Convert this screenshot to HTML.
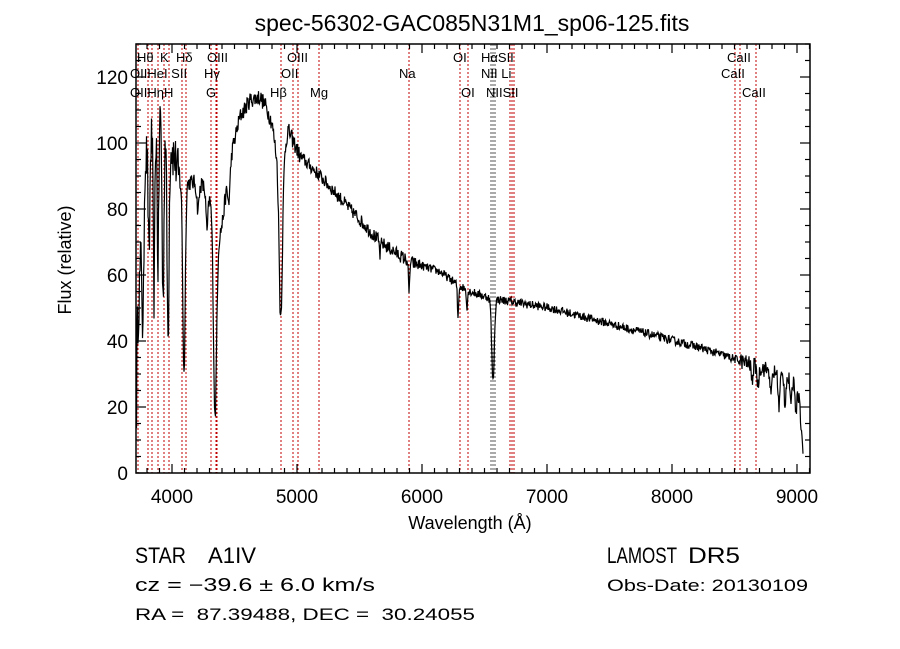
<!DOCTYPE html>
<html><head><meta charset="utf-8"><style>
html,body{margin:0;padding:0;background:#fff;}
svg{display:block;}
text{font-family:"Liberation Sans","DejaVu Sans",sans-serif;fill:#000;}
</style></head><body>
<svg id="s" width="900" height="649" xmlns="http://www.w3.org/2000/svg">
<rect width="900" height="649" fill="#fff"/>
<text x="472" y="31" font-size="23" text-anchor="middle">spec-56302-GAC085N31M1_sp06-125.fits</text>
<g id="lines"></g>
<g id="lbl" font-size="13"></g>
<path id="spec" fill="none" stroke="#000" stroke-width="1.2"/>
<g id="ticks" stroke="#000" stroke-width="1.2"></g>
<rect x="136" y="44" width="674" height="429" fill="none" stroke="#000" stroke-width="1.5"/>
<g font-size="19" text-anchor="middle">
<text x="172" y="503">4000</text><text x="297" y="503">5000</text><text x="422" y="503">6000</text>
<text x="547" y="503">7000</text><text x="672" y="503">8000</text><text x="797" y="503">9000</text>
</g>
<g font-size="19" text-anchor="end">
<text x="128" y="480">0</text><text x="128" y="414">20</text><text x="128" y="348">40</text>
<text x="128" y="282">60</text><text x="128" y="216">80</text><text x="128" y="150">100</text><text x="128" y="84">120</text>
</g>
<text x="470" y="529" font-size="18" text-anchor="middle">Wavelength (Å)</text>
<text transform="translate(71,260) rotate(-90)" font-size="18" text-anchor="middle">Flux (relative)</text>
<text x="135" y="563" font-size="22" textLength="51" lengthAdjust="spacingAndGlyphs">STAR</text>
<text x="208" y="563" font-size="22" textLength="48" lengthAdjust="spacingAndGlyphs">A1IV</text>
<text x="135" y="591" font-size="18" font-family="Liberation Serif" textLength="240" lengthAdjust="spacingAndGlyphs">cz = −39.6 ± 6.0 km/s</text>
<text x="135" y="620" font-size="17" textLength="340" lengthAdjust="spacingAndGlyphs" xml:space="preserve">RA =  87.39488, DEC =  30.24055</text>
<text x="607" y="563" font-size="22" textLength="70" lengthAdjust="spacingAndGlyphs">LAMOST</text>
<text x="688" y="563" font-size="22" textLength="52" lengthAdjust="spacingAndGlyphs">DR5</text>
<text x="607" y="591" font-size="17" textLength="201" lengthAdjust="spacingAndGlyphs">Obs-Date: 20130109</text>
</svg>
<script>
var NS="http://www.w3.org/2000/svg";
function el(p,t,a,txt){var e=document.createElementNS(NS,t);for(var k in a)e.setAttribute(k,a[k]);if(txt)e.textContent=txt;p.appendChild(e);return e;}
var L=document.getElementById('lines'),T=document.getElementById('ticks'),G=document.getElementById('lbl');
var red=[138,148,152,158,164,169,182,186,211,216,217,281,293,298,319,409,460,468,510,512,514,735,740,756];
var gry=[491,493,495];
red.forEach(function(x){el(L,'line',{x1:x,x2:x,y1:44,y2:473,stroke:'#c00000','stroke-width':1,'stroke-dasharray':'2,2'});});
gry.forEach(function(x){el(L,'line',{x1:x,x2:x,y1:44,y2:473,stroke:'#555','stroke-width':1,'stroke-dasharray':'2,2'});});
var labs=[["Hθ",137,62],["K",160,62],["Hδ",176,62],["OIII",207,62],["OIII",287,62],["OI",453,62],["HαSII",481,62],["CaII",727,62],
["OIIHeI SII",130,78],["Hγ",204,78],["OII",281,78],["Na",399,78],["NII Li",481,78],["CaII",721,78],
["OIIHηH",130,97],["G",206,97],["Hβ",270,97],["Mg",310,97],["OI",461,97],["NIISII",486,97],["CaII",742,97]];
labs.forEach(function(l){el(G,'text',{x:l[1],y:l[2]},l[0]);});
for(var w=3800;w<=9100;w+=100){var x=172+(w-4000)*0.125;if(x<136||x>810)continue;var m=(w%1000==0)?9:5;
el(T,'line',{x1:x,x2:x,y1:473,y2:473-m});el(T,'line',{x1:x,x2:x,y1:44,y2:44+m});}
for(var f=0;f<=130;f+=5){var y=473-f*3.3;if(y<44)continue;var m=(f%20==0)?10:5;
el(T,'line',{x1:136,x2:136+m,y1:y,y2:y});el(T,'line',{x1:810,x2:810-m,y1:y,y2:y});}
var cp=[[136,0],[137,40],[140,60],[145,95],[150,100],[155,105],[160,110],[165,105],[170,100],[175,95],[180,88],[190,88],[200,88],[208,85],[212,80],
[218,70],[222,75],[230,95],[240,108],[250,113],[260,114],[266,111],[272,106],[277,95],[280,82],[283,95],[288,104],[294,100],[300,96],[320,90],[350,80],[380,70],[409,64],[440,61],[458,57],[470,55],[490,53],[510,52],[550,50],[600,46],[650,42],[700,38],[740,34],[770,31],[797,27],[800,20],[803,5]];
function base(x){for(var i=0;i<cp.length-1;i++){if(x>=cp[i][0]&&x<=cp[i+1][0]){var t=(x-cp[i][0])/(cp[i+1][0]-cp[i][0]);return cp[i][1]+t*(cp[i+1][1]-cp[i][1]);}}return 0;}
var dips=[[493,25,1.3],[281,38,1.6],[215,58,1.5],[184,58,1.2],[168,60,1.0],[163,55,0.9],[158,45,0.8],[154,50,0.8],[149,35,0.8],[143,40,0.8],[409,10,0.6],[458,10,0.6],[467,5,0.6],[380,4,0.6],
[752,5,0.8],[758,6,0.8],[771,8,0.8],[779,10,0.8],[785,8,0.7],[791,9,0.7],[796,10,0.6],[229,10,1.2],[207,12,1.0],[198,8,1.2]];
var seed=12345;function rnd(){seed=(seed*16807)%2147483647;return seed/2147483647-0.5;}
var d="";
for(var x=136.5;x<=803;x+=0.5){var f=base(x);
var a=x<180?16:(x<300?5:(x<420?4:(x<740?2.6:5)));
f+=rnd()*a;
dips.forEach(function(p){var q=(x-p[0])/p[2];f-=p[1]*Math.exp(-q*q/2);});
if(f<0)f=0;var y=473-f*3.3;if(y<44)y=44;
d+=(d?"L":"M")+x.toFixed(1)+","+y.toFixed(1);}
document.getElementById('spec').setAttribute('d',d);
</script>
</body></html>
